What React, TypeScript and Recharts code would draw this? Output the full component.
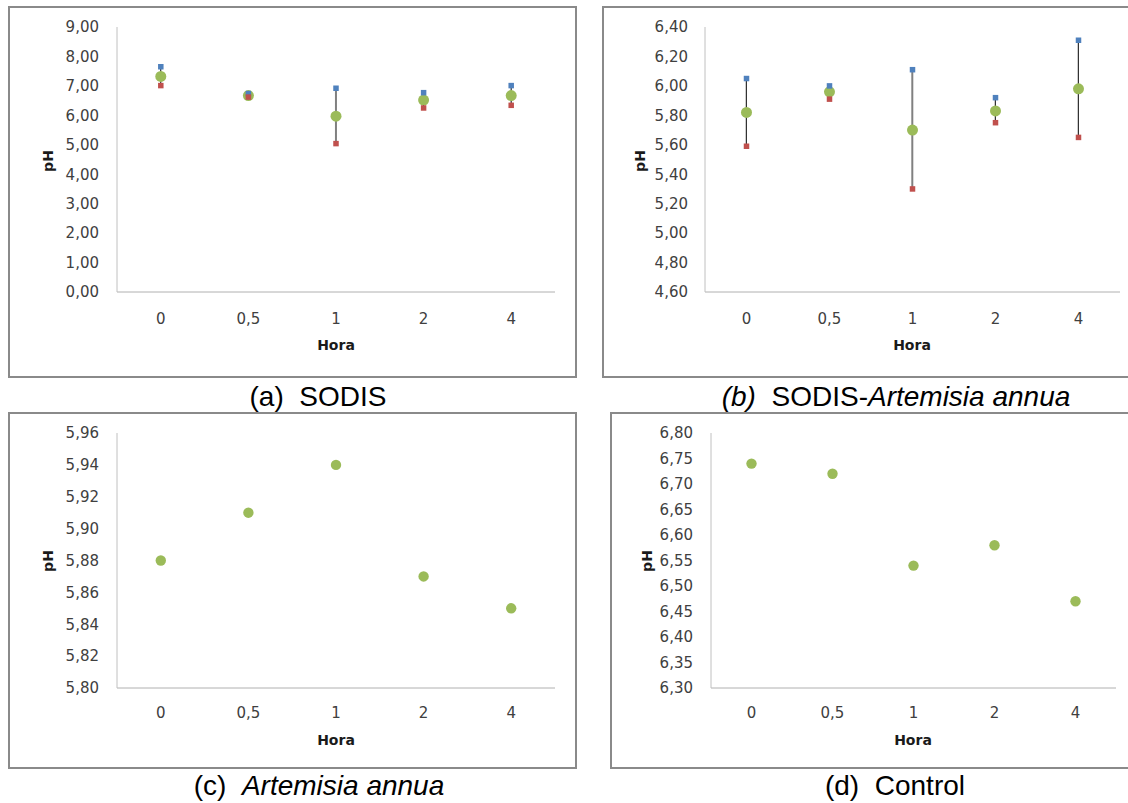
import React from 'react';
import { ComposedChart, XAxis, YAxis, Bar, Line } from 'recharts';

// ---- data ----
const categories = ['0', '0,5', '1', '2', '4'];

const sodisHigh = [7.65, 6.74, 6.92, 6.77, 7.01];
const sodisLow = [7.01, 6.62, 5.04, 6.25, 6.34];
const sodisMean = [7.32, 6.67, 5.97, 6.52, 6.67];

const sodisArtHigh = [6.05, 6.0, 6.11, 5.92, 6.31];
const sodisArtLow = [5.59, 5.91, 5.3, 5.75, 5.65];
const sodisArtMean = [5.82, 5.96, 5.7, 5.83, 5.98];

const artemisiaMean = [5.88, 5.91, 5.94, 5.87, 5.85];
const controlMean = [6.74, 6.72, 6.54, 6.58, 6.47];

const ticksA = [0, 1, 2, 3, 4, 5, 6, 7, 8, 9];
const ticksB = [4.6, 4.8, 5.0, 5.2, 5.4, 5.6, 5.8, 6.0, 6.2, 6.4];
const ticksC = [5.8, 5.82, 5.84, 5.86, 5.88, 5.9, 5.92, 5.94, 5.96];
const ticksD = [6.3, 6.35, 6.4, 6.45, 6.5, 6.55, 6.6, 6.65, 6.7, 6.75, 6.8];

// ---- styles ----
const BLUE = '#4F81BD';
const RED = '#C0504D';
const GREEN = '#9BBB59';
const hlStroke = ['#000000', '#000000', '#808080', '#000000', '#000000'];
const hlWidth = [1, 1, 2, 1, 1];

const fmt = (v: number) => v.toFixed(2).replace('.', ',');

const buildRows = (mean: number[], high?: number[], low?: number[]) =>
  categories.map((c, i) => ({
    hora: c,
    mean: mean[i],
    high: high ? high[i] : undefined,
    low: low ? low[i] : undefined,
    range: high && low ? [low[i], high[i]] : undefined,
  }));

const hlShape = (props: any) => {
  const { x, y, width, height, index } = props;
  if (x == null || y == null) return <g />;
  const cx = x + width / 2;
  const y1 = Math.min(y, y + height);
  const y2 = Math.max(y, y + height);
  return (
    <line
      x1={cx}
      x2={cx}
      y1={y1}
      y2={y2}
      stroke={hlStroke[index]}
      strokeWidth={hlWidth[index]}
    />
  );
};

const squareDot = (color: string) => (props: any) => {
  const { cx, cy, index } = props;
  if (cx == null || cy == null) return <g key={`s${index}`} />;
  return <rect key={`s${index}`} x={cx - 2.75} y={cy - 2.75} width={5.5} height={5.5} fill={color} />;
};

const circleDot = (r: number) => (props: any) => {
  const { cx, cy, index } = props;
  if (cx == null || cy == null) return <g key={`c${index}`} />;
  return <circle key={`c${index}`} cx={cx} cy={cy} r={r} fill={GREEN} />;
};

const tickFont = { fontFamily: 'DejaVu Sans', fontSize: 15, fill: '#404040' };
const titleFont = { fontFamily: 'DejaVu Sans', fontSize: 14, fontWeight: 700, fill: '#1a1a1a' };

type PanelProps = {
  left: number;
  top: number;
  width: number;
  height: number;
  plotL: number;
  plotT: number;
  plotR: number;
  plotB: number;
  rows: any[];
  ticks: number[];
  hasRange: boolean;
  yTickMargin: number;
  xTickMargin: number;
  phX: number;
  phY: number;
  horaX: number;
  horaY: number;
  r: number;
};

function Panel(p: PanelProps) {
  const yW = p.plotL - p.left;
  const xH = p.top + p.height - p.plotB;
  const mTop = p.plotT - p.top;
  const mRight = p.left + p.width - p.plotR;
  const phXl = p.phX - p.left;
  const phYl = p.phY - p.top;
  const horaXl = p.horaX - p.left;
  const horaYl = p.horaY - p.top;
  return (
    <div style={{ position: 'absolute', left: p.left, top: p.top }}>
      <ComposedChart
        width={p.width}
        height={p.height}
        data={p.rows}
        margin={{ top: mTop, right: mRight, bottom: 0, left: 0 }}
        barCategoryGap="10%"
      >
        <XAxis
          dataKey="hora"
          type="category"
          scale="band"
          height={xH}
          interval={0}
          tickLine={false}
          tickSize={0}
          tickMargin={p.xTickMargin}
          axisLine={{ stroke: '#b0b0b0', strokeWidth: 1 }}
          tick={tickFont}
          label={{
            content: () => (
              <text x={horaXl} y={horaYl} textAnchor="middle" dominantBaseline="central" style={titleFont as any}>
                Hora
              </text>
            ),
          }}
        />
        <YAxis
          type="number"
          width={yW}
          domain={[p.ticks[0], p.ticks[p.ticks.length - 1]]}
          ticks={p.ticks}
          interval={0}
          allowDataOverflow
          tickFormatter={fmt}
          tickLine={false}
          tickSize={0}
          tickMargin={p.yTickMargin}
          axisLine={{ stroke: '#c0c0c0', strokeWidth: 1 }}
          tick={tickFont}
          label={{
            content: () => (
              <text
                x={phXl}
                y={phYl}
                transform={`rotate(-90 ${phXl} ${phYl})`}
                textAnchor="middle"
                dominantBaseline="central"
                style={titleFont as any}
              >
                pH
              </text>
            ),
          }}
        />
        {p.hasRange && (
          <Bar dataKey="range" isAnimationActive={false} shape={hlShape} />
        )}
        <Line
          dataKey="mean"
          stroke="none"
          isAnimationActive={false}
          dot={circleDot(p.r)}
          activeDot={false}
        />
        {p.hasRange && (
          <Line dataKey="high" stroke="none" isAnimationActive={false} dot={squareDot(BLUE)} activeDot={false} />
        )}
        {p.hasRange && (
          <Line dataKey="low" stroke="none" isAnimationActive={false} dot={squareDot(RED)} activeDot={false} />
        )}
      </ComposedChart>
    </div>
  );
}

const borderStyle = (left: number, top: number, width: number, height: number): React.CSSProperties => ({
  position: 'absolute',
  left,
  top,
  width,
  height,
  boxSizing: 'border-box',
  border: '2px solid #8a8a8a',
  background: '#ffffff',
});

const captionStyle = (cx: number, top: number): React.CSSProperties => ({
  position: 'absolute',
  left: cx - 250,
  top,
  width: 500,
  textAlign: 'center',
  fontFamily: '"Liberation Sans", Arial, sans-serif',
  fontSize: 28,
  lineHeight: '30px',
  color: '#000',
  whiteSpace: 'pre',
});

export default function App() {
  return (
    <div
      style={{
        position: 'absolute',
        left: 0,
        top: 0,
        width: 1128,
        height: 803,
        background: '#ffffff',
        overflow: 'hidden',
      }}
    >
      <div style={borderStyle(8, 6, 569, 372)} />
      <div style={borderStyle(602, 6, 540, 372)} />
      <div style={borderStyle(8, 412, 569, 357)} />
      <div style={borderStyle(610, 412, 540, 357)} />

      <Panel
        left={0}
        top={0}
        width={577}
        height={378}
        plotL={117}
        plotT={27}
        plotR={555}
        plotB={292}
        rows={buildRows(sodisMean, sodisHigh, sodisLow)}
        ticks={ticksA}
        hasRange
        yTickMargin={18}
        xTickMargin={21}
        phX={48}
        phY={161}
        horaX={336}
        horaY={345}
        r={5.5}
      />
      <Panel
        left={580}
        top={0}
        width={548}
        height={378}
        plotL={705}
        plotT={27}
        plotR={1120}
        plotB={292}
        rows={buildRows(sodisArtMean, sodisArtHigh, sodisArtLow)}
        ticks={ticksB}
        hasRange
        yTickMargin={17}
        xTickMargin={21}
        phX={640}
        phY={161}
        horaX={912}
        horaY={345}
        r={5.5}
      />
      <Panel
        left={0}
        top={400}
        width={577}
        height={369}
        plotL={117}
        plotT={433}
        plotR={555}
        plotB={688}
        rows={buildRows(artemisiaMean)}
        ticks={ticksC}
        hasRange={false}
        yTickMargin={18}
        xTickMargin={19}
        phX={48}
        phY={561}
        horaX={336}
        horaY={740}
        r={5.2}
      />
      <Panel
        left={590}
        top={400}
        width={538}
        height={369}
        plotL={711}
        plotT={433}
        plotR={1116}
        plotB={688}
        rows={buildRows(controlMean)}
        ticks={ticksD}
        hasRange={false}
        yTickMargin={18}
        xTickMargin={19}
        phX={647}
        phY={561}
        horaX={913}
        horaY={740}
        r={5.2}
      />

      <div style={captionStyle(318, 382)}>
        <span>{'(a)  SODIS'}</span>
      </div>
      <div style={captionStyle(896, 382)}>
        <span style={{ fontStyle: 'italic' }}>(b)</span>
        <span>{'  SODIS-'}</span>
        <span style={{ fontStyle: 'italic' }}>Artemisia annua</span>
      </div>
      <div style={captionStyle(319, 771)}>
        <span>{'(c)  '}</span>
        <span style={{ fontStyle: 'italic' }}>Artemisia annua</span>
      </div>
      <div style={captionStyle(895, 771)}>
        <span>{'(d)  Control'}</span>
      </div>
    </div>
  );
}
